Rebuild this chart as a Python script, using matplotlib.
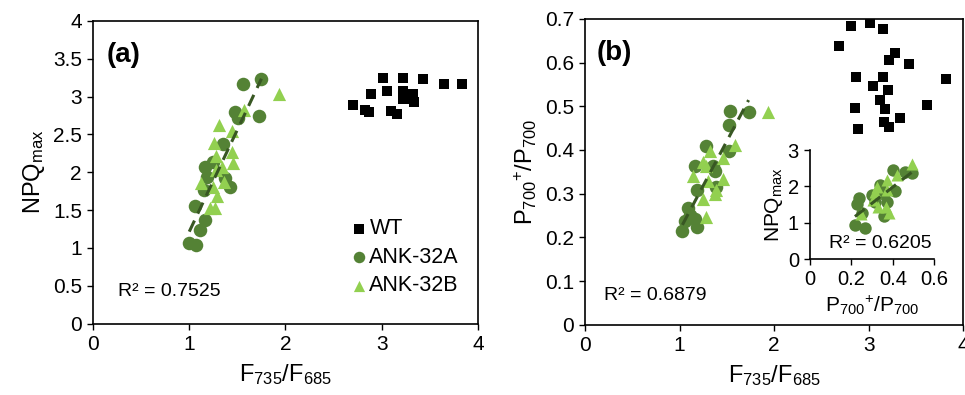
import numpy as np
import matplotlib
matplotlib.use("Agg")
import matplotlib.pyplot as plt

plt.rcParams['font.family'] = ['Liberation Sans', 'DejaVu Sans']
plt.rcParams['mathtext.fontset'] = 'custom'
plt.rcParams['mathtext.rm'] = 'Liberation Sans'
plt.rcParams['mathtext.it'] = 'Liberation Sans:italic'

C_WT = 'black'
C_A = '#548235'
C_B = '#92d050'
C_FIT = '#385723'

# ---- panel (a): NPQmax vs F735/F685
wt_a_x = [3.01, 3.22, 3.43, 3.65, 3.83, 2.89, 3.05, 3.22, 3.32, 3.22, 3.28, 3.34,
          2.70, 2.83, 2.87, 3.10, 3.16]
wt_a_y = [3.24, 3.24, 3.23, 3.17, 3.16, 3.03, 3.07, 3.07, 3.03, 2.97, 2.97, 2.93,
          2.89, 2.82, 2.80, 2.81, 2.77]
a32a_a_x = [1.56, 1.75, 1.48, 1.51, 1.72, 1.35, 1.16, 1.18, 1.25, 1.37, 1.42, 1.15,
            1.06, 1.16, 1.11, 1.00, 1.07]
a32a_a_y = [3.17, 3.23, 2.80, 2.72, 2.74, 2.37, 2.07, 1.94, 2.14, 1.92, 1.81, 1.76,
            1.55, 1.37, 1.23, 1.07, 1.04]
a32b_a_x = [1.93, 1.57, 1.31, 1.44, 1.26, 1.44, 1.28, 1.45, 1.34, 1.28, 1.12, 1.36,
            1.25, 1.29, 1.22, 1.27]
a32b_a_y = [3.04, 2.82, 2.63, 2.55, 2.39, 2.27, 2.22, 2.12, 2.07, 2.03, 1.86, 1.87,
            1.81, 1.68, 1.53, 1.53]

# ---- panel (b): P700+/P700 vs F735/F685
wt_b_x = [2.81, 3.01, 3.15, 2.69, 3.28, 3.22, 3.43, 2.87, 3.15, 3.82, 3.05, 3.20,
          3.12, 3.17, 2.85, 3.62, 3.33, 3.16, 3.21, 2.89]
wt_b_y = [0.683, 0.690, 0.676, 0.637, 0.622, 0.607, 0.597, 0.566, 0.566, 0.562,
          0.547, 0.537, 0.515, 0.494, 0.495, 0.503, 0.473, 0.463, 0.452, 0.448]
a32a_b_x = [1.53, 1.73, 1.52, 1.28, 1.52, 1.16, 1.37, 1.35, 1.18, 1.39, 1.09, 1.11,
            1.16, 1.06, 1.18, 1.03, 1.12]
a32a_b_y = [0.490, 0.488, 0.457, 0.408, 0.398, 0.363, 0.353, 0.363, 0.308, 0.315,
            0.267, 0.252, 0.242, 0.238, 0.224, 0.215, 0.247]
a32b_b_x = [1.94, 1.59, 1.32, 1.46, 1.25, 1.28, 1.14, 1.46, 1.30, 1.25, 1.37, 1.39, 1.28]
a32b_b_y = [0.488, 0.412, 0.398, 0.381, 0.372, 0.364, 0.341, 0.334, 0.330, 0.288,
            0.299, 0.308, 0.246]

# ---- inset: NPQmax vs P700+/P700
a32a_i_x = [0.217, 0.265, 0.228, 0.236, 0.249, 0.298, 0.338, 0.357, 0.370, 0.358,
            0.410, 0.402, 0.459, 0.490, 0.314]
a32a_i_y = [0.94, 0.87, 1.53, 1.67, 1.26, 1.76, 2.04, 1.78, 1.58, 1.18, 1.87, 2.45,
            2.40, 2.38, 1.58]
a32b_i_x = [0.490, 0.418, 0.370, 0.325, 0.314, 0.306, 0.330, 0.381, 0.365, 0.370, 0.245]
a32b_i_y = [2.61, 2.31, 2.17, 1.99, 1.85, 1.62, 1.44, 1.26, 1.44, 1.90, 1.25]

r2_labels = ['R² = 0.7525', 'R² = 0.6879', 'R² = 0.6205']


def trend(ax, xs, ys):
    # linear trendline (ANK-32A series)
    xs = np.array(xs)
    ys = np.array(ys)
    k, b = np.polyfit(xs, ys, 1)
    xx = np.array([xs.min(), xs.max()])
    ax.plot(xx, k * xx + b, color=C_FIT, ls=(0, (4, 2.5)), lw=2.2, zorder=4)


def style(ax, fs=15):
    ax.tick_params(direction='out', length=4, width=1, labelsize=fs,
                   top=False, right=False, pad=4)
    for s in ax.spines.values():
        s.set_linewidth(1.2)


fig = plt.figure(figsize=(9.65, 3.95), dpi=100)

# panel a
ax1 = fig.add_axes([0.0964, 0.181, 0.3989, 0.766])
ax1.scatter(wt_a_x, wt_a_y, marker='s', s=60, color=C_WT, lw=0, label='WT', zorder=3)
ax1.scatter(a32a_a_x, a32a_a_y, marker='o', s=95, color=C_A, lw=0, label='ANK-32A', zorder=3)
ax1.scatter(a32b_a_x, a32b_a_y, marker='^', s=90, color=C_B, lw=0, label='ANK-32B', zorder=3)
trend(ax1, a32a_a_x, a32a_a_y)
ax1.set_xlim(0, 4)
ax1.set_ylim(0, 4)
ax1.set_xticks([0, 1, 2, 3, 4])
ax1.set_yticks(np.arange(0, 4.01, 0.5))
ax1.set_yticklabels(['0', '0.5', '1', '1.5', '2', '2.5', '3', '3.5', '4'])
style(ax1)
ax1.set_xlabel('$\\mathregular{F_{735}/F_{685}}$', fontsize=17, labelpad=6)
ax1.set_ylabel('$\\mathregular{NPQ_{max}}$', fontsize=17, labelpad=4)
ax1.text(0.035, 0.93, '(a)', transform=ax1.transAxes, fontsize=20,
         fontweight='bold', va='top')
ax1.text(0.065, 0.09, r2_labels[0], transform=ax1.transAxes, fontsize=14)
ax1.legend(loc='lower right', bbox_to_anchor=(0.99, 0.04), frameon=False,
           fontsize=15.5, handletextpad=0.0, labelspacing=0.35, borderaxespad=0.3,
           handlelength=1.0, markerscale=0.85)

# panel b
ax2 = fig.add_axes([0.6062, 0.178, 0.392, 0.774])
ax2.scatter(wt_b_x, wt_b_y, marker='s', s=60, color=C_WT, lw=0, zorder=3)
ax2.scatter(a32a_b_x, a32a_b_y, marker='o', s=95, color=C_A, lw=0, zorder=3)
ax2.scatter(a32b_b_x, a32b_b_y, marker='^', s=90, color=C_B, lw=0, zorder=3)
trend(ax2, a32a_b_x, a32a_b_y)
ax2.set_xlim(0, 4)
ax2.set_ylim(0, 0.7)
ax2.set_xticks([0, 1, 2, 3, 4])
ax2.set_yticks(np.arange(0, 0.71, 0.1))
ax2.set_yticklabels(['0', '0.1', '0.2', '0.3', '0.4', '0.5', '0.6', '0.7'])
style(ax2)
ax2.set_xlabel('$\\mathregular{F_{735}/F_{685}}$', fontsize=17, labelpad=6)
ax2.set_ylabel('$\\mathregular{P_{700}{}^{+}/P_{700}}$', fontsize=17, labelpad=4)
ax2.text(0.03, 0.93, '(b)', transform=ax2.transAxes, fontsize=20,
         fontweight='bold', va='top')
ax2.text(0.05, 0.08, r2_labels[1], transform=ax2.transAxes, fontsize=14)

# inset
ax3 = fig.add_axes([0.8394, 0.344, 0.1288, 0.276])
ax3.scatter(a32a_i_x, a32a_i_y, marker='o', s=80, color=C_A, lw=0, zorder=3)
ax3.scatter(a32b_i_x, a32b_i_y, marker='^', s=75, color=C_B, lw=0, zorder=3)
trend(ax3, a32a_i_x, a32a_i_y)
ax3.set_xlim(0, 0.6)
ax3.set_ylim(0, 3)
ax3.set_xticks([0, 0.2, 0.4, 0.6])
ax3.set_xticklabels(['0', '0.2', '0.4', '0.6'])
ax3.set_yticks([0, 1, 2, 3])
ax3.patch.set_alpha(0)
ax3.spines['top'].set_visible(False)
ax3.spines['right'].set_visible(False)
style(ax3, fs=14.5)
ax3.set_xlabel('$\\mathregular{P_{700}{}^{+}/P_{700}}$', fontsize=15, labelpad=3)
ax3.set_ylabel('$\\mathregular{NPQ_{max}}$', fontsize=15, labelpad=2)
ax3.text(0.98, 0.1, r2_labels[2], transform=ax3.transAxes, fontsize=14, ha='right')

fig.savefig('out.png', dpi=100)
